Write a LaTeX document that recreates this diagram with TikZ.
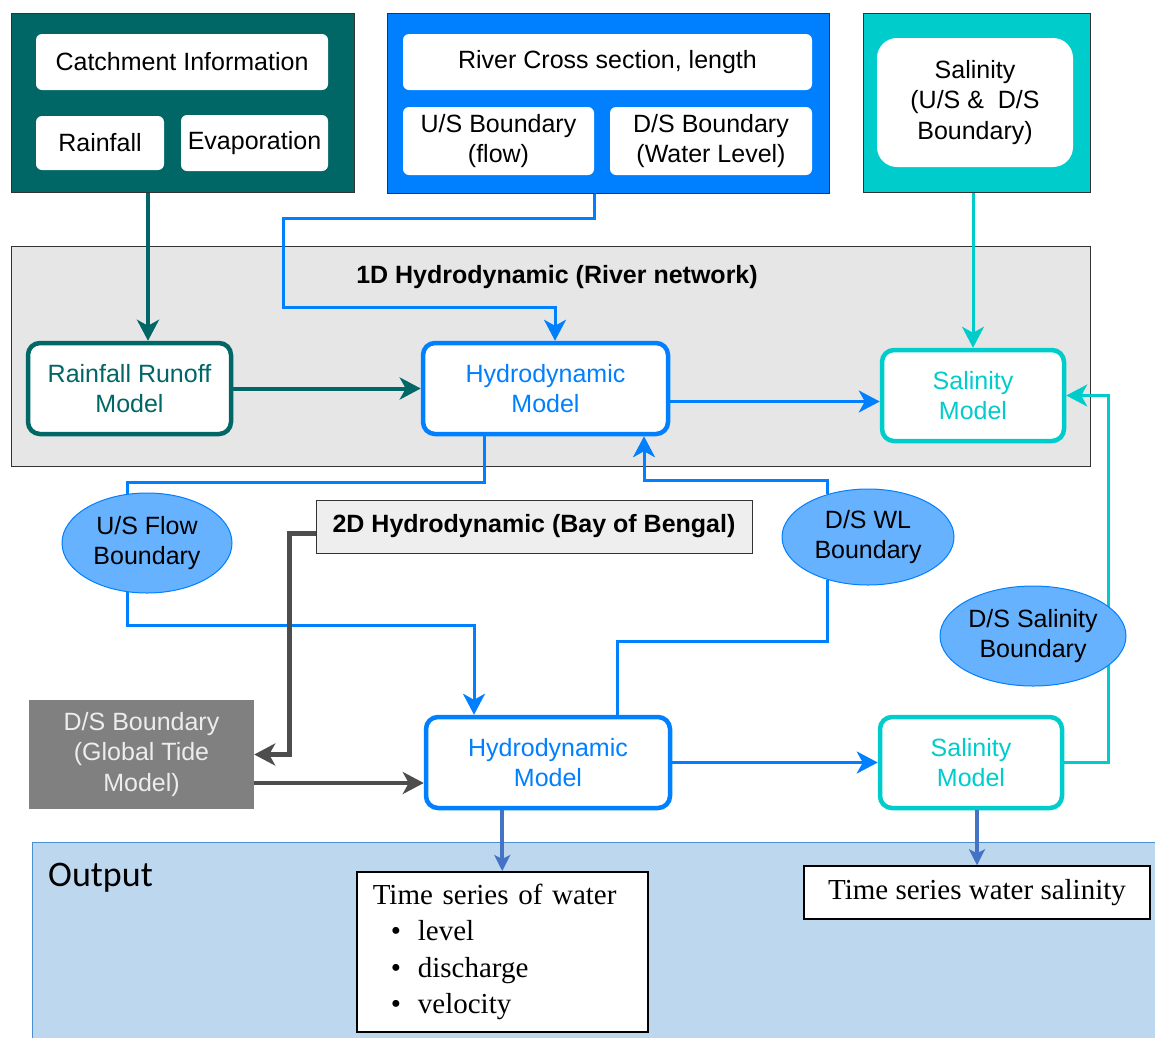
\documentclass[tikz,border=0pt]{standalone}
\usepackage{fontspec}
\setmainfont{Liberation Sans}
\newfontfamily\outserif{Liberation Serif}
\newfontfamily\outsans{Carlito}
\usetikzlibrary{shapes.geometric}
\usetikzlibrary{arrows.meta}

\definecolor{catchteal}{HTML}{006666}
\definecolor{riverblue}{HTML}{007FFF}
\definecolor{salcyan}{HTML}{00CCCC}
\definecolor{bndfill}{HTML}{66B2FF}
\definecolor{onedgray}{HTML}{E6E6E6}
\definecolor{twodgray}{HTML}{EEEEEE}
\definecolor{tidegray}{HTML}{808080}
\definecolor{linkgray}{HTML}{4D4D4D}
\definecolor{outfill}{HTML}{BDD7EE}
\definecolor{outedge}{HTML}{4A8FD0}
\definecolor{outarrow}{HTML}{4472C4}

\begin{document}
\begin{tikzpicture}[x=1pt,y=-1pt,
            >={Stealth[length=21pt,width=22pt,inset=6pt]},
            font=\fontsize{25}{30.5}\selectfont,
            panel/.style = {draw=black!80,line width=1pt,inner sep=0pt},
            field/.style = {fill=white,rounded corners=6pt,align=center,inner sep=0pt},
            model/.style = {draw=#1,text=#1,fill=white,line width=4.5pt,
                rounded corners=12pt,align=center,inner sep=0pt,minimum height=91pt},
            bnd/.style = {ellipse,draw=riverblue,line width=1pt,fill=bndfill,
                align=center,inner sep=0pt},
            link/.style = {->,line width=3pt,draw=#1},
            outlink/.style = {>={Stealth[length=16pt,width=16pt,inset=4pt]},->,
                line width=4pt,draw=outarrow},
            outbox/.style = {draw=black,line width=1.5pt,fill=white,
                font=\outserif\fontsize{29}{36.5}\selectfont}]
            \useasboundingbox (0,0) rectangle (1155,1037);
            % output area
            \node[draw=outedge,line width=1pt,fill=outfill,anchor=north west,
                minimum width=1135pt,minimum height=205pt] (output) at (32,842) {};
            \node[font=\outsans\fontsize{36}{40}\selectfont,anchor=base west,
                inner sep=0pt] (outlabel) at (48,886) {Output};
            % input data
            \node[panel,fill=catchteal,minimum width=343pt,minimum height=179pt] (catch) at (182.5,102.5) {};
            \node[field,minimum width=292pt,minimum height=56pt] (catchinfo) at (182,62) {Catchment Information};
            \node[field,minimum width=128pt,minimum height=54pt] (rain) at (100,143) {Rainfall};
            \node[field,minimum width=147pt,minimum height=56pt] (evap) at (254.5,143) {Evaporation};
            \node[panel,fill=riverblue,minimum width=442pt,minimum height=180pt] (river) at (608,103) {};
            \node[field,minimum width=409pt,minimum height=56pt] (xsec) at (607.5,62) {River Cross section, length};
            \node[field,minimum width=191pt,minimum height=68pt] (usbnd) at (498.5,141) {U/S Boundary\\(flow)};
            \node[field,minimum width=202pt,minimum height=68pt] (dsbnd) at (711,141) {D/S Boundary\\(Water Level)};
            \node[panel,fill=salcyan,minimum width=227pt,minimum height=179pt] (sal) at (976.5,102.5) {};
            \node[field,rounded corners=20pt,minimum width=196pt,minimum height=129pt] (salin) at (975,102.5) {Salinity\\(U/S \&~ D/S\\Boundary)};
            % 1D model
            \node[panel,fill=onedgray,minimum width=1079pt,minimum height=220pt] (oned) at (550.5,356) {};
            \node[font=\bfseries\fontsize{25}{30}\selectfont] (onedtitle) at (557,277) {1D Hydrodynamic (River network)};
            \node[model=catchteal,minimum width=203pt] (rr) at (129.5,388.5) {Rainfall Runoff\\Model};
            \node[model=riverblue,minimum width=245pt] (hd1) at (545.5,388.5) {Hydrodynamic\\Model};
            \node[model=salcyan,minimum width=182pt] (sm1) at (973,395.5) {Salinity\\Model};
            % boundaries
            \node[bnd,minimum width=170pt,minimum height=100pt] (usf) at (147,543) {U/S Flow\\Boundary};
            \node[bnd,minimum width=172pt,minimum height=96pt] (dswl) at (868,537) {D/S WL\\Boundary};
            % 2D model
            \node[panel,fill=twodgray,minimum width=436pt,minimum height=53pt,
                font=\bfseries\fontsize{25}{30}\selectfont] (twod) at (534,526.5) {2D Hydrodynamic (Bay of Bengal)};
            \node[fill=tidegray,text=white!93!black,align=center,inner sep=0pt,
                minimum width=225pt,minimum height=109pt] (gtm) at (141.5,754.5) {D/S Boundary\\(Global Tide\\Model)};
            \node[model=riverblue,minimum width=244pt] (hd2) at (548,762.5) {Hydrodynamic\\Model};
            \node[model=salcyan,minimum width=182pt] (sm2) at (971,762.5) {Salinity\\Model};
            % results
            \node[outbox,anchor=north west,text width=259pt,align=left,
                inner xsep=16pt,inner ysep=12pt] (ts1) at (356,871)
                {Time series of water\\
                 \hspace*{18pt}\textbullet\hspace{17pt}level\\
                 \hspace*{18pt}\textbullet\hspace{17pt}discharge\\
                 \hspace*{18pt}\textbullet\hspace{17pt}velocity};
            \node[outbox,inner sep=0pt,minimum width=346pt,minimum height=53pt] (ts2) at (977,892.5) {Time series water salinity};
            % links
            \coordinate (catchout) at ([xshift=-34.5pt]catch.south);
            \draw[link=catchteal,line width=4pt] (catchout) -- (catchout |- rr.north);
            \draw[link=riverblue] ([xshift=-14pt]river.south) -- ++(0,25) -| (283,307)
                -| ([xshift=9.5pt]hd1.north);
            \draw[link=salcyan] (sm1.north |- sal.south) -- (sm1.north);
            \draw[link=catchteal,line width=4pt] (rr.east) -- (hd1.west);
            \draw[link=riverblue] ([yshift=-6pt]sm1.west -| hd1.east) -- ([yshift=-6pt]sm1.west);
            \draw[riverblue,line width=3pt] ([xshift=-61pt]hd1.south) -- ++(0,46) -| (usf.112);
            \draw[link=riverblue] (usf.248) -- ++(0,33) -| ([xshift=-74pt]hd2.north);
            \draw[riverblue,line width=3pt] ([xshift=69pt]hd2.north) -- ++(0,-73) -| (dswl.227);
            \draw[link=riverblue] (dswl.133) -- ++(0,-14) -| ([xshift=98.5pt]hd1.south);
            \coordinate (twodout) at ([yshift=-7pt]twod.west);
            \draw[link=linkgray,line width=4.5pt] (twodout) -- ++(-26,0) |- (gtm.east);
            \coordinate (gtmout) at ([yshift=-28.5pt]gtm.east);
            \draw[link=linkgray,line width=4.5pt] (gtmout) -- (gtmout -| hd2.west);
            \draw[link=riverblue] (hd2.east) -- (sm2.west);
            \draw[link=salcyan] (sm2.east) -- ++(44,0) |- (sm1.east);
            \node[bnd,minimum width=186pt,minimum height=100pt] (dssal) at (1033,636) {D/S Salinity\\Boundary};
            \draw[outlink] (hd2.south -| ts1.north) -- (ts1.north);
            \draw[outlink] (sm2.south -| ts2.north) -- (ts2.north);
        \end{tikzpicture}
\end{document}
